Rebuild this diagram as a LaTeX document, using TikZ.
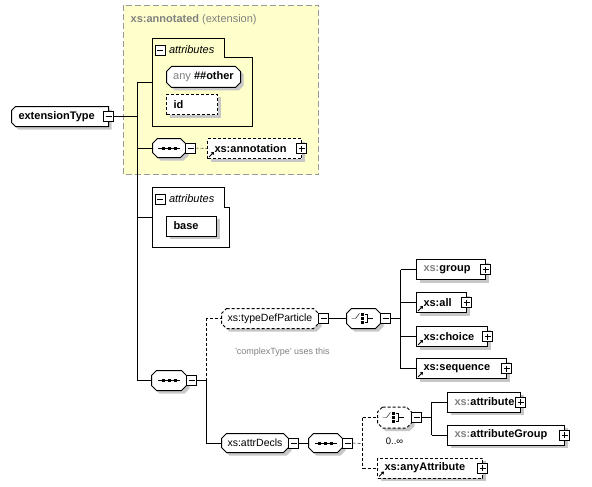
\documentclass[tikz,border=0pt]{standalone}
\usepackage{fontspec}
\setmainfont{Liberation Sans}
\usetikzlibrary{shadows,arrows.meta}

\pgfdeclarelayer{bottom}
\pgfdeclarelayer{behind}
\pgfsetlayers{bottom,behind,main}

\definecolor{annyellow}{HTML}{FFFFCC}
\definecolor{anngray}{HTML}{999999}
\definecolor{xsgray}{HTML}{808080}

\newcommand\lbox[2]{\hbox to #1pt{\hskip7pt #2\hfil}}
\newcommand\xs{\textcolor{xsgray}{xs:}}

% octagon outline behind a named node
\newcommand\octo[2][]{\begin{pgfonlayer}{behind}
  \draw[line width=1pt, draw=black, fill=white, shad, #1] ([xshift=5pt]#2.north west) -- ([xshift=-5pt]#2.north east)
    -- ([yshift=-5pt]#2.north east) -- ([yshift=5pt]#2.south east)
    -- ([xshift=-5pt]#2.south east) -- ([xshift=5pt]#2.south west)
    -- ([yshift=5pt]#2.south west) -- ([yshift=-5pt]#2.north west) -- cycle;
\end{pgfonlayer}}

% compositor icons, drawn on the node centre
\newcommand\seqicon[1]{\begin{scope}[shift={(#1.center)}]
  \draw (-11,0) -- (11,0);
  \foreach \d in {-6,0,6} \fill (\d-1.5,-1.5) rectangle (\d+1.5,1.5);
\end{scope}}
\newcommand\choiceicon[1]{\begin{scope}[shift={(#1.center)}]
  \draw (-12,0) -- (-8,0) -- (-4,-5);
  \foreach \d in {-4,0,4} \fill (-2.5,\d-1.3) rectangle (0,\d+1.3);
  \draw (1,-4) -- (4,-4) -- (4,4) -- (1,4) (4,0) -- (9,0);
\end{scope}}
\newcommand\refmark[1]{\draw[line width=1pt,-{Triangle[length=2.5pt,width=3.5pt]}]
  ([shift={(1.5pt,1.5pt)}]#1.south west) -- ++(5,-5);}

\tikzset{
  shad/.style={drop shadow={shadow xshift=3pt,shadow yshift=-3pt,fill=black!22,opacity=1}},
  opt/.style={dash pattern=on 3pt off 2pt},
  elem/.style={draw, fill=white, shad, anchor=west, minimum height=20pt, inner sep=0pt, outer sep=0pt,
    font=\bfseries\fontsize{11}{13}\selectfont},
  grpnode/.style={minimum height=20pt, inner sep=0pt, outer sep=0pt, font=\fontsize{10.5}{12}\selectfont},
  pmbox/.style={draw, fill=white, minimum size=10pt, inner sep=0pt, outer sep=0pt},
  minbox/.style={pmbox, path picture={\draw
    ([xshift=2pt]path picture bounding box.west) -- ([xshift=-2pt]path picture bounding box.east);}},
  plusbox/.style={pmbox, path picture={\draw
    ([xshift=2pt]path picture bounding box.west) -- ([xshift=-2pt]path picture bounding box.east)
    ([yshift=-2pt]path picture bounding box.north) -- ([yshift=2pt]path picture bounding box.south);}},
  caption/.style={anchor=west, font=\itshape\fontsize{11}{13}\selectfont},
}

\begin{document}
\begin{tikzpicture}[x=1pt,y=-1pt,line width=1pt]
\useasboundingbox (0,0) rectangle (592,487);
\begin{scope}[shift={(.5,.5)}]

% xs:annotated (extension)
\begin{pgfonlayer}{bottom}
\draw[anngray, line width=1pt, fill=annyellow, dash pattern=on 6pt off 3pt] (123,5) rectangle (318,174);
\end{pgfonlayer}
\node[anchor=west, text=xsgray, font=\fontsize{11}{13}\selectfont, inner sep=0pt] (annlbl) at (130,19)
  {\textbf{xs:annotated} (extension)};

\draw (152,38) -- (224,38) -- (224,57) -- (252,57) -- (252,126) -- (152,126) -- cycle;
\node[minbox] (attAm) at (159.5,49.5) {};
\node[caption] (attAl) at (165,49) {attributes};
\node[grpnode, font=\fontsize{11}{13}\selectfont, minimum width=74pt, minimum height=21pt] (anyo) at (203,76.5)
  {\textcolor{xsgray}{any} \textbf{\#\#other}};
\octo{anyo}
\node[elem, opt] (idn) at (166,104) {\lbox{51}{id}};

\node[grpnode, minimum width=33pt, minimum height=19pt] (seqA) at (168.5,147.5) {};
\octo{seqA}
\seqicon{seqA}
\node[minbox, anchor=west] (seqAm) at (seqA.east) {};
\node[elem, opt] (annot) at (207,148) {\lbox{94}{xs:annotation}};
\node[plusbox] (annotp) at (annot.east) {};
\refmark{annot}
\draw[opt] (seqAm.east) -- (annot.west);

% root
\node[grpnode, anchor=west, font=\bfseries\fontsize{11}{13}\selectfont] (ext) at (11,116) {\lbox{97}{extensionType}};
\begin{pgfonlayer}{behind}
\draw[line width=1pt, draw=black, fill=white, shad] ([xshift=4pt]ext.north west) -- (ext.north east) -- (ext.south east)
  -- ([xshift=4pt]ext.south west) -- ([yshift=4pt]ext.south west) -- ([yshift=-4pt]ext.north west) -- cycle;
\end{pgfonlayer}
\node[minbox] (extm) at (ext.east) {};

\coordinate (trkT) at (137,82);
\coordinate (trkB) at (137,380);
\coordinate (attA) at (152,82);
\coordinate (attB) at (152,217);
\draw (trkT) -- (trkB);
\draw (extm.east) -- (extm.east -| trkT);
\draw (trkT) -- (attA);
\draw (seqA.west -| trkT) -- (seqA.west);
\draw (attB -| trkT) -- (attB);

% own attributes
\draw (152,187) -- (224,187) -- (224,207) -- (229,207) -- (229,247) -- (152,247) -- cycle;
\node[minbox] (attBm) at (159.5,198.5) {};
\node[caption] (attBl) at (165,198) {attributes};
\node[elem] (base) at (166,225.5) {\lbox{50}{base}};

% content model
\node[grpnode, minimum width=35pt] (seqB) at (168.5,380) {};
\octo{seqB}
\seqicon{seqB}
\node[minbox, anchor=west] (seqBm) at (seqB.east) {};
\draw (trkB) -- (seqB.west);

\node[grpnode, minimum width=97pt] (tdp) at (269.5,318) {xs:typeDefParticle};
\octo[opt]{tdp}
\node[minbox, anchor=west] (tdpm) at (tdp.east) {};
\node[grpnode, minimum width=67pt, minimum height=19pt] (atd) at (254.5,442.5) {xs:attrDecls};
\octo{atd}
\node[minbox, anchor=west] (atdm) at (atd.east) {};
\node[text=xsgray, font=\fontsize{9}{11}\selectfont] (note) at (282,352)
  {\textquotesingle complexType\textquotesingle{} uses this};

\coordinate (brB) at (206,380);
\draw (seqBm.east) -- (brB);
\draw[opt] (brB) -- (brB |- tdp.west) -- (tdp.west);
\draw (brB) -- (brB |- atd.west) -- (atd.west);

% typeDefParticle choice
\node[grpnode, minimum width=34pt] (chA) at (363,318) {};
\octo{chA}
\choiceicon{chA}
\node[minbox, anchor=west] (chAm) at (chA.east) {};
\draw (tdpm.east) -- (chA.west);

\node[elem] (grp) at (416,269) {\lbox{69}{\xs group}};
\node[elem] (all) at (416,302) {\lbox{50}{xs:all}};
\node[elem] (cho) at (416,336) {\lbox{71}{xs:choice}};
\node[elem] (sqc) at (416,368) {\lbox{90}{xs:sequence}};
\foreach \n in {grp,all,cho,sqc} {\node[plusbox] (\n p) at (\n.east) {};}
\foreach \n in {all,cho,sqc} {\refmark{\n}}

\coordinate (brC) at (400,318);
\draw (chAm.east) -- (brC);
\draw (brC |- grp.west) -- (brC |- sqc.west);
\foreach \n in {grp,all,cho,sqc} {\draw (brC |- \n.west) -- (\n.west);}

% attrDecls
\node[grpnode, minimum width=34pt, minimum height=19pt] (seqC) at (325,442.5) {};
\octo{seqC}
\seqicon{seqC}
\node[minbox, anchor=west] (seqCm) at (seqC.east) {};
\draw (atdm.east) -- (seqC.west);

\node[grpnode, minimum width=34pt, minimum height=21pt] (chB) at (394,417) {};
\octo[opt]{chB}
\choiceicon{chB}
\node[minbox, anchor=west] (chBm) at (chB.east) {};
\node[font=\fontsize{9.5}{11}\selectfont, inner sep=0pt] (mult) at (394,441) {0..∞};

\node[elem] (attr) at (447,401.5) {\lbox{73}{\xs attribute}};
\node[elem] (atg) at (447,434.5) {\lbox{117}{\xs attributeGroup}};
\node[elem, opt] (anya) at (377,467.5) {\lbox{105}{xs:anyAttribute}};
\foreach \n in {attr,atg,anya} {\node[plusbox] (\n p) at (\n.east) {};}
\refmark{anya}

\coordinate (brD) at (362,443);
\draw[opt] (seqCm.east) -- (brD);
\draw[opt] (brD |- chB.west) -- (brD |- anya.west);
\draw[opt] (brD |- chB.west) -- (chB.west);
\draw[opt] (brD |- anya.west) -- (anya.west);

\coordinate (brE) at (431,417);
\draw (chBm.east) -- (brE);
\draw (brE |- attr.west) -- (brE |- atg.west);
\draw (brE |- attr.west) -- (attr.west);
\draw (brE |- atg.west) -- (atg.west);

\end{scope}
\end{tikzpicture}
\end{document}
